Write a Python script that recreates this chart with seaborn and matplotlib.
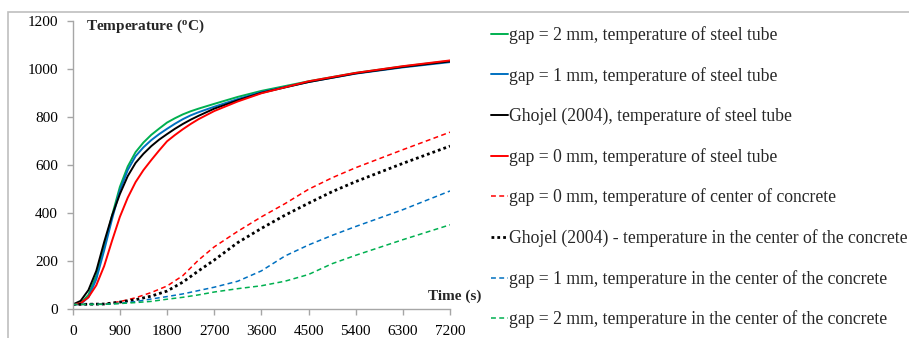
import matplotlib
matplotlib.use("Agg")
import matplotlib.pyplot as plt
import seaborn as sns
import pandas as pd
from matplotlib.patches import Rectangle

# ---- data ----
steel_time = [0, 150, 300, 450, 600, 750, 900, 1050, 1200, 1350, 1500, 1650, 1800,
              1950, 2100, 2250, 2400, 2700, 3150, 3600, 4500, 5400, 6300, 7200]
steel_gap2 = [20, 25, 60, 140, 260, 390, 510, 595, 655, 695, 727, 753, 778,
              796, 812, 825, 836, 856, 885, 910, 950, 985, 1012, 1035]
steel_gap1 = [20, 22, 50, 125, 245, 375, 495, 580, 638, 675, 705, 730, 752,
              773, 792, 808, 821, 844, 876, 905, 947, 982, 1008, 1030]
steel_ghojel = [20, 35, 80, 160, 280, 390, 480, 555, 610, 648, 680, 707, 730,
                752, 772, 790, 806, 836, 871, 902, 947, 983, 1010, 1033]
steel_gap0 = [20, 25, 50, 100, 180, 285, 385, 465, 530, 580, 622, 662, 700,
              726, 750, 772, 792, 826, 866, 900, 950, 985, 1013, 1037]

conc_time = [0, 600, 900, 1200, 1500, 1800, 2100, 2400, 2700, 3150, 3600, 4050,
             4500, 4950, 5400, 6300, 7200]
conc_gap0 = [20, 22, 32, 48, 70, 97, 140, 205, 260, 325, 385, 440, 500, 548, 590, 665, 738]
conc_ghojel = [20, 22, 30, 40, 55, 76, 113, 160, 205, 278, 337, 392, 442, 490, 532, 608, 680]
conc_gap1 = [20, 21, 25, 32, 43, 53, 64, 78, 92, 117, 160, 222, 268, 308, 345, 415, 493]
conc_gap2 = [20, 21, 24, 28, 33, 42, 50, 60, 72, 86, 98, 117, 145, 190, 225, 290, 352]

x_ticks = [0, 900, 1800, 2700, 3600, 4500, 5400, 6300, 7200]
y_ticks = [0, 200, 400, 600, 800, 1000, 1200]

labels = [
    "gap = 2 mm, temperature of steel tube",
    "gap = 1 mm, temperature of steel tube",
    "Ghojel (2004), temperature of steel tube",
    "gap = 0 mm, temperature of steel tube",
    "gap = 0 mm, temperature of center of concrete",
    "Ghojel (2004) - temperature in the center of the concrete",
    "gap = 1 mm, temperature in the center of the concrete",
    "gap = 2 mm, temperature in the center of the concrete",
]

# ---- style ----
sns.set_style("white")
plt.rcParams["font.family"] = ["Liberation Serif", "DejaVu Serif"]
plt.rcParams["mathtext.fontset"] = "custom"
plt.rcParams["mathtext.rm"] = "Liberation Serif"
plt.rcParams["mathtext.bf"] = "Liberation Serif:bold"

GREEN = "#00B050"
BLUE = "#0070C0"
RED = "#FF0000"
BLACK = "#000000"
GRAY = "#A6A6A6"

fig = plt.figure(figsize=(9.09, 3.38), dpi=100)
ax = fig.add_axes([72.7 / 909, 1 - 309.3 / 338, (450 - 72.7) / 909, (309.3 - 21.3) / 338])

series = [
    (steel_time, steel_gap2, GREEN, "-", 1.4),
    (steel_time, steel_gap1, BLUE, "-", 1.4),
    (steel_time, steel_ghojel, BLACK, "-", 1.4),
    (steel_time, steel_gap0, RED, "-", 1.4),
    (conc_time, conc_gap0, RED, (0, (3.2, 2.2)), 1.1),
    (conc_time, conc_ghojel, BLACK, (0, (1, 1.1)), 2.0),
    (conc_time, conc_gap1, BLUE, (0, (3.2, 2.2)), 1.1),
    (conc_time, conc_gap2, GREEN, (0, (3.2, 2.2)), 1.1),
]

for (t, v, c, ls, lw), lab in zip(series, labels):
    df = pd.DataFrame({"t": t, "v": v})
    sns.lineplot(data=df, x="t", y="v", ax=ax, color=c, linestyle=ls, lw=lw, label=lab)

ax.set_xlim(0, 7200)
ax.set_ylim(0, 1200)
ax.set_xticks(x_ticks)
ax.set_yticks(y_ticks)
ax.set_xlabel("")
ax.set_ylabel("")
for s in ["top", "right"]:
    ax.spines[s].set_visible(False)
for s in ["left", "bottom"]:
    ax.spines[s].set_color(GRAY)
    ax.spines[s].set_linewidth(1.0)
ax.tick_params(axis="both", direction="out", length=4, width=1.0, color=GRAY,
               labelsize=11, labelcolor="#000000")
ax.tick_params(axis="x", bottom=True, pad=7)
ax.tick_params(axis="y", left=True, pad=6.5)

ax.text(86 / 909, 1 - 26 / 338, r"Temperature ($\mathbf{^o}$C)", transform=fig.transFigure,
        fontsize=11, fontweight="bold", ha="left", va="center")
ax.text(481 / 909, 1 - 296 / 338, "Time (s)", transform=fig.transFigure,
        fontsize=11, fontweight="bold", ha="right", va="center")

handles, labs = ax.get_legend_handles_labels()
if ax.legend_:
    ax.legend_.remove()
leg = fig.legend(handles, labs, loc="upper left", bbox_to_anchor=(491 / 909, 1 - 26 / 338),
                 frameon=False, fontsize=12.7, handlelength=0.95, handletextpad=0.05,
                 labelspacing=1.29, borderaxespad=0, borderpad=0)

# chart area border
fig.patches.append(Rectangle((8 / 909, -0.05), 1.2, 1 - 12 / 338 + 0.05,
                             transform=fig.transFigure, fill=False,
                             edgecolor="#BFBFBF", lw=1.2))

fig.savefig("out.png", dpi=100)
